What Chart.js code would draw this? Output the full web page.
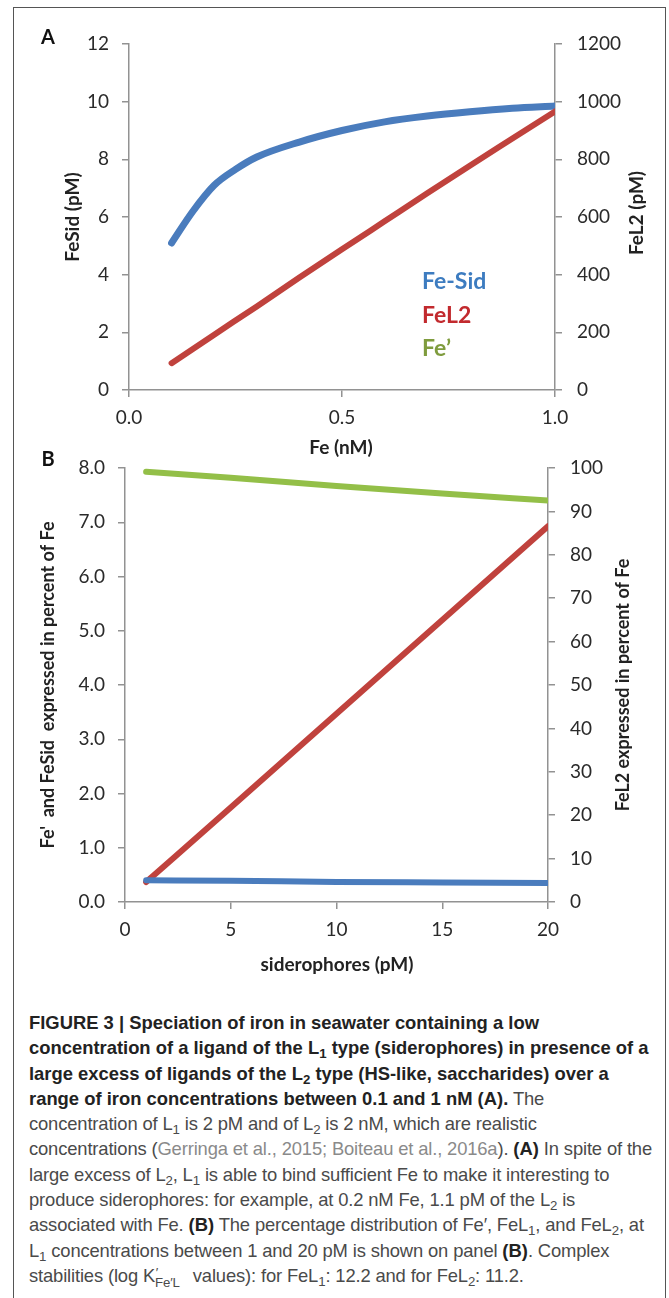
<!DOCTYPE html>
<html>
<head>
<meta charset="utf-8">
<script src="https://cdn.jsdelivr.net/npm/chart.js@4.4.1/dist/chart.umd.min.js"></script>
<style>
  body { margin: 0; background: #fff; width: 669px; height: 1298px; overflow: hidden; position: relative; }
  #frame { position: absolute; left: 13px; top: 7px; width: 653px; height: 1400px; border: 1.5px solid #555; box-sizing: border-box; }
  #chartA { position: absolute; left: 0; top: 0; }
  #chartB { position: absolute; left: 0; top: 440px; }
  #caption {
    position: absolute; left: 29px; top: 1010px;
    font-family: "Liberation Sans", Arial, sans-serif;
    font-size: 18.4px; line-height: 25.3px; color: #4a4a4a; white-space: nowrap;
    letter-spacing: -0.15px;
  }
  #caption b { color: #222; letter-spacing: 0; }
  #caption .ref { color: #8a8a8a; }
  #caption sub { font-size: 0.72em; vertical-align: -0.3em; line-height: 0; }
  #caption .kk { display: inline-block; position: relative; width: 1.78em; height: 1em; vertical-align: baseline; }
  #caption .kk .p { position: absolute; left: 0.05em; top: -0.3em; font-size: 0.72em; }
  #caption .kk .s { position: absolute; left: 0; top: 0.45em; font-size: 0.72em; }
</style>
</head>
<body>
<div id="frame"></div>
<canvas id="chartA" width="669" height="470"></canvas>
<canvas id="chartB" width="669" height="560"></canvas>
<div id="caption">
  <b>FIGURE 3 | Speciation of iron in seawater containing a low</b><br>
  <b>concentration of a ligand of the L<sub>1</sub> type (siderophores) in presence of a</b><br>
  <b>large excess of ligands of the L<sub>2</sub> type (HS-like, saccharides) over a</b><br>
  <b>range of iron concentrations between 0.1 and 1 nM (A).</b> The<br>
  concentration of L<sub>1</sub> is 2 pM and of L<sub>2</sub> is 2 nM, which are realistic<br>
  concentrations (<span class="ref">Gerringa et al., 2015; Boiteau et al., 2016a</span>). <b>(A)</b> In spite of the<br>
  large excess of L<sub>2</sub>, L<sub>1</sub> is able to bind sufficient Fe to make it interesting to<br>
  produce siderophores: for example, at 0.2 nM Fe, 1.1 pM of the L<sub>2</sub> is<br>
  associated with Fe. <b>(B)</b> The percentage distribution of Fe′, FeL<sub>1</sub>, and FeL<sub>2</sub>, at<br>
  L<sub>1</sub> concentrations between 1 and 20 pM is shown on panel <b>(B)</b>. Complex<br>
  stabilities (log K<span class="kk"><span class="p">′</span><span class="s">Fe′L</span></span> values): for FeL<sub>1</sub>: 12.2 and for FeL<sub>2</sub>: 11.2.
</div>
<script>
// --- Panel A: Fe (nM) vs FeSid / FeL2 ---
const feSidX = [0.1, 0.15, 0.2, 0.25, 0.3, 0.4, 0.5, 0.6, 0.7, 0.8, 0.9, 1.0];
const feSidA = [5.1, 6.2, 7.1, 7.65, 8.08, 8.6, 9.0, 9.3, 9.5, 9.65, 9.77, 9.85];
const feL2X = [0.1, 0.2, 0.3, 0.4, 0.5, 0.6, 0.7, 0.8, 0.9, 1.0];
const feL2A = [93, 192, 290, 390, 488, 585, 682, 778, 872, 966];
const legendA = ['Fe-Sid', 'FeL2', 'Fe\u2019'];

// --- Panel B: siderophores (pM) vs percent of Fe ---
const sidX = [1, 5, 10, 15, 20];
const fePrimeB = [7.93, 7.82, 7.67, 7.53, 7.40];
const feSidB = [0.40, 0.39, 0.37, 0.36, 0.35];
const feL2B = [4.6, 21.8, 43.4, 65.0, 86.6];

const BLUE = '#4a7cbd';
const RED = '#c0423d';
const GREEN = '#93bf48';
const AXIS = '#929292';

Chart.defaults.font.family = 'Lato';
Chart.defaults.animation = false;

const pts = (xs, ys) => xs.map((x, i) => ({ x: x, y: ys[i] }));

// draws free text (axis titles, panel letters, legend)
const textPlugin = {
  id: 'texts',
  afterDraw(chart, args, opts) {
    const ctx = chart.ctx;
    (opts.items || []).forEach(t => {
      ctx.save();
      ctx.translate(t.x, t.y);
      ctx.rotate(t.rot || 0);
      ctx.font = t.font;
      ctx.fillStyle = t.color || '#222';
      ctx.textAlign = t.align || 'center';
      ctx.textBaseline = 'middle';
      ctx.fillText(t.text, 0, 0);
      ctx.restore();
    });
  }
};

function yAxis(pos, min, max, step, width, fmt) {
  return {
    type: 'linear', position: pos, min: min, max: max,
    ticks: { stepSize: step, padding: pos === 'left' ? 13 : 15, color: '#2a2a2a', font: { size: 19 }, callback: fmt },
    grid: { drawOnChartArea: false, drawTicks: true, tickLength: 7, color: AXIS, lineWidth: 1.5 },
    border: { color: AXIS, width: 1.5 },
    afterFit: s => { s.width = width; }
  };
}

function xAxis(min, max, step, height, fmt) {
  return {
    type: 'linear', position: 'bottom', min: min, max: max,
    ticks: { stepSize: step, padding: 9, color: '#2a2a2a', font: { size: 19 }, autoSkip: false, maxRotation: 0, callback: fmt },
    grid: { drawOnChartArea: false, drawTicks: true, tickLength: 7, color: AXIS, lineWidth: 1.5 },
    border: { color: AXIS, width: 1.5 },
    afterFit: s => { s.height = height; }
  };
}

const lineDs = (label, data, color, axis, width) => ({
  label: label, data: data, yAxisID: axis,
  borderColor: color, backgroundColor: color, borderWidth: width,
  pointRadius: 0, borderCapStyle: 'round', borderJoinStyle: 'round',
  cubicInterpolationMode: 'monotone', fill: false
});

const ROT = -Math.PI / 2;

new Chart(document.getElementById('chartA'), {
  type: 'line',
  data: {
    datasets: [
      lineDs('FeL2', pts(feL2X, feL2A), RED, 'y2', 6),
      lineDs('Fe-Sid', pts(feSidX, feSidA), BLUE, 'y', 7)
    ]
  },
  options: {
    responsive: false,
    layout: { padding: { top: 44, left: 0, right: 0, bottom: 0 } },
    scales: {
      x: xAxis(0, 1, 0.5, 80, v => v.toFixed(1)),
      y: yAxis('left', 0, 12, 2, 129, v => v),
      y2: yAxis('right', 0, 1200, 200, 114, v => v)
    },
    plugins: {
      legend: { display: false },
      tooltip: { enabled: false },
      texts: {
        items: [
          { text: 'A', x: 48, y: 38, font: 'bold 20px Lato', color: '#111' },
          { text: 'Fe (nM)', x: 341, y: 448, font: 'bold 19px Lato' },
          { text: 'FeSid (pM)', x: 73, y: 217, rot: ROT, font: 'bold 19px Lato' },
          { text: 'FeL2 (pM)', x: 637, y: 213, rot: ROT, font: 'bold 19px Lato' },
          { text: legendA[0], x: 422, y: 282, align: 'left', font: 'bold 23px Lato', color: '#3d7cc0' },
          { text: legendA[1], x: 422, y: 316, align: 'left', font: 'bold 23px Lato', color: '#c22a2e' },
          { text: legendA[2], x: 422, y: 349, align: 'left', font: 'bold 23px Lato', color: '#7f9c3e' }
        ]
      }
    }
  },
  plugins: [textPlugin]
});

new Chart(document.getElementById('chartB'), {
  type: 'line',
  data: {
    datasets: [
      lineDs('Fe\'', pts(sidX, fePrimeB), GREEN, 'y', 6),
      lineDs('FeSid', pts(sidX, feSidB), BLUE, 'y', 6),
      lineDs('FeL2', pts(sidX, feL2B), RED, 'y2', 6)
    ]
  },
  options: {
    responsive: false,
    layout: { padding: { top: 28, left: 0, right: 0, bottom: 0 } },
    scales: {
      x: xAxis(0, 20, 5, 98, v => v),
      y: yAxis('left', 0, 8, 1, 125, v => v.toFixed(1)),
      y2: yAxis('right', 0, 100, 10, 121, v => v)
    },
    plugins: {
      legend: { display: false },
      tooltip: { enabled: false },
      texts: {
        items: [
          { text: 'B', x: 48, y: 20, font: 'bold 20px Lato', color: '#111' },
          { text: 'siderophores (pM)', x: 337, y: 525, font: 'bold 19px Lato' },
          { text: 'Fe\'  and FeSid  expressed in percent of Fe', x: 48, y: 245, rot: ROT, font: 'bold 18px Lato' },
          { text: 'FeL2 expressed in percent of Fe', x: 623, y: 245, rot: ROT, font: 'bold 18px Lato' }
        ]
      }
    }
  },
  plugins: [textPlugin]
});
</script>
</body>
</html>
